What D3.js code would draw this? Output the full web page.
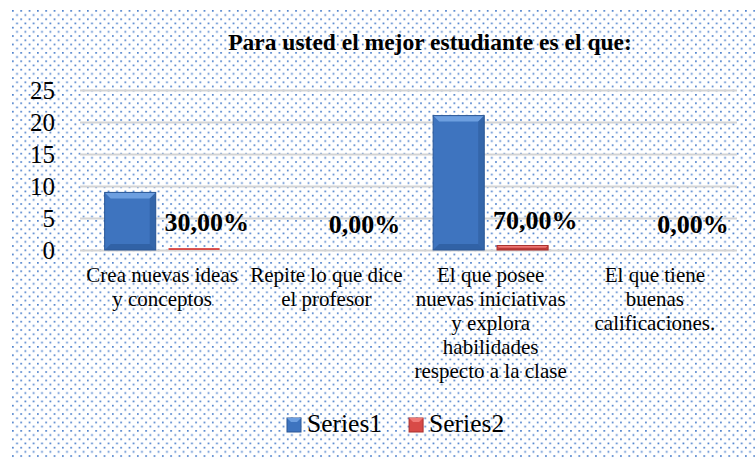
<!DOCTYPE html>
<html>
<head>
<meta charset="utf-8">
<script src="https://cdn.jsdelivr.net/npm/d3@7"></script>
<style>
  body { margin: 0; background: #fff; }
  text { font-family: "Liberation Serif", "Times New Roman", serif; fill: #000; }
</style>
</head>
<body>
<div id="chart"></div>
<script>
// data
var categories = ["cat0", "cat1", "cat2", "cat3"];
var categoryLabels = [
    ["Crea nuevas ideas", "y conceptos"],
    ["Repite lo que dice", "el profesor"],
    ["El que posee", "nuevas iniciativas", "y explora", "habilidades", "respecto a la clase"],
    ["El que tiene", "buenas", "calificaciones."]
];
var seriesNames = ["Series1", "Series2"];
var series1 = [9, 0, 21, 0];
var series2 = [0.3, 0, 0.7, 0];
var yTicks = [0, 5, 10, 15, 20, 25];
var title = "Para usted el mejor estudiante es el que:";

var width = 755, height = 459;
var margin = {left: 80, right: 18, top: 90, bottom: 209};

const svg = d3.select("#chart").append("svg")
    .attr("width", width)
    .attr("height", height);

// dotted background
var defs = svg.append("defs");
var pat = defs.append("pattern")
    .attr("id", "dots")
    .attr("patternUnits", "userSpaceOnUse")
    .attr("x", 12).attr("y", 10)
    .attr("width", 8.33).attr("height", 8.4);
pat.append("rect").attr("x", 0).attr("y", 0).attr("width", 1.7).attr("height", 1.7).attr("fill", "#4f82cc");
pat.append("rect").attr("x", 4.17).attr("y", 4.2).attr("width", 1.7).attr("height", 1.7).attr("fill", "#4f82cc");

svg.append("rect")
    .attr("x", 12).attr("y", 10)
    .attr("width", width - 12).attr("height", height - 10)
    .attr("fill", "url(#dots)");

var colors = {
    Series1: {main: "#3e74bf", light: "#6d9fe0", dark: "#2a5796"},
    Series2: {main: "#d84a47", light: "#f07a76", dark: "#a8302e"}
};

// scales
var x0 = d3.scaleBand()
    .domain(categories)
    .range([margin.left, width - margin.right])
    .paddingInner(0.3)
    .paddingOuter(0.15);

var x1 = d3.scaleBand()
    .domain(seriesNames)
    .range([0, x0.bandwidth()])
    .paddingInner(0.2);

var yScale = d3.scaleLinear()
    .domain([0, 25])
    .range([height - margin.bottom, margin.top]);

// gridlines
svg.append("g")
    .attr("transform", `translate(${margin.left}, 0)`)
    .call(d3.axisLeft(yScale).tickValues(yTicks).tickSize(-(width - margin.left - margin.right)).tickFormat(""))
    .call(g => g.select(".domain").remove())
    .call(g => g.selectAll("line").attr("stroke", "#d4d4d4").attr("stroke-width", 2));

// y axis labels
svg.append("g")
    .attr("transform", `translate(${margin.left}, 0)`)
    .call(d3.axisLeft(yScale).tickValues(yTicks).tickSize(0).tickPadding(25))
    .call(g => g.select(".domain").remove())
    .call(g => g.selectAll("text")
        .attr("font-size", 25)
        .attr("font-family", "Liberation Serif")
        .attr("dy", "0.33em"));

// bars
var rows = [];
categories.forEach(function(c, i) {
    rows.push({cat: c, series: "Series1", value: series1[i]});
    rows.push({cat: c, series: "Series2", value: series2[i]});
});

var bars = svg.append("g").selectAll("g")
    .data(rows.filter(d => d.value > 0))
    .enter().append("g");

bars.each(function(d) {
    var g = d3.select(this);
    var x = x0(d.cat) + x1(d.series);
    var w = x1.bandwidth();
    var y = yScale(d.value);
    var h = yScale(0) - y;
    var c = colors[d.series];
    var b = Math.min(6, h / 2, w / 2);
    g.append("rect")
        .attr("x", x).attr("y", y).attr("width", w).attr("height", h)
        .attr("fill", c.main);
    if (h > 4) {
        // bevel edges
        g.append("polygon")
            .attr("points", [[x, y], [x + w, y], [x + w - b, y + b], [x + b, y + b]].join(" "))
            .attr("fill", c.light);
        g.append("polygon")
            .attr("points", [[x + w, y], [x + w, y + h], [x + w - b, y + h - b], [x + w - b, y + b]].join(" "))
            .attr("fill", c.dark).attr("opacity", 0.5);
        g.append("polygon")
            .attr("points", [[x, y + h], [x + w, y + h], [x + w - b, y + h - b], [x + b, y + h - b]].join(" "))
            .attr("fill", c.dark).attr("opacity", 0.6);
        g.append("rect")
            .attr("x", x).attr("y", y).attr("width", w).attr("height", h)
            .attr("fill", "none").attr("stroke", c.dark).attr("stroke-width", 1);
    }
});

// data labels for Series2
var es = d3.formatLocale({decimal: ",", thousands: ".", grouping: [3], currency: ["", "€"]});
var pct = es.format(".2%");

svg.append("g").selectAll("text")
    .data(rows.filter(d => d.series === "Series2"))
    .enter().append("text")
    .attr("x", d => x0(d.cat) + x1(d.series) - 4)
    .attr("y", d => yScale(d.value) - 17)
    .attr("font-size", 26)
    .attr("font-weight", "bold")
    .text(d => pct(d.value));

// x axis labels
var xAxis = svg.append("g")
    .attr("transform", `translate(0, ${yScale(0)})`)
    .call(d3.axisBottom(x0).tickSize(0).tickFormat(""))
    .call(g => g.select(".domain").remove());

xAxis.selectAll(".tick text").each(function(d, i) {
    var t = d3.select(this)
        .attr("font-size", 21)
        .attr("font-family", "Liberation Serif")
        .attr("fill", "#000")
        .attr("y", 0)
        .attr("dy", null);
    categoryLabels[i].forEach(function(line, k) {
        t.append("tspan")
            .attr("x", 0)
            .attr("y", 32 + k * 24)
            .text(line);
    });
});

// title
svg.append("text")
    .attr("x", 430)
    .attr("y", 50)
    .attr("text-anchor", "middle")
    .attr("font-size", 23.5)
    .attr("font-weight", "bold")
    .text(title);

// legend
var legend = svg.append("g").attr("transform", "translate(287, 418)");
var lx = 0;
seriesNames.forEach(function(s) {
    var item = legend.append("g").attr("transform", `translate(${lx}, 0)`);
    item.append("rect")
        .attr("width", 14).attr("height", 14)
        .attr("fill", colors[s].main)
        .attr("stroke", colors[s].dark);
    item.append("polygon")
        .attr("points", "0,0 14,0 10,4 4,4")
        .attr("fill", colors[s].light);
    var t = item.append("text")
        .attr("x", 20).attr("y", 14)
        .attr("font-size", 25.5)
        .text(s);
    lx += 20 + t.node().getComputedTextLength() + 27;
});
</script>
</body>
</html>
